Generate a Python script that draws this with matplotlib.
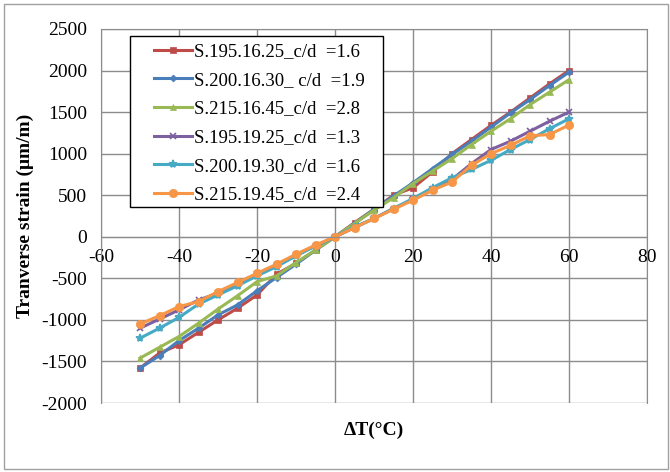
import matplotlib
matplotlib.use("Agg")
import matplotlib.pyplot as plt
from matplotlib.patches import Rectangle

plt.rcParams['font.family'] = ['Liberation Serif', 'DejaVu Serif']
plt.rcParams['axes.unicode_minus'] = False

# temperature change (°C)
dT = [-50, -45, -40, -35, -30, -25, -20, -15, -10, -5, 0, 5, 10, 15, 20, 25, 30, 35, 40, 45, 50, 55, 60]

s195_16_25 = [-1580, -1400, -1300, -1150, -1000, -860, -700, -450, -320, -160, 0, 170, 330, 500, 590, 780,
              1000, 1170, 1340, 1500, 1670, 1840, 2000]
s200_16_30 = [-1580, -1430, -1250, -1100, -940, -820, -650, -490, -330, -160, 0, 160, 330, 490, 650, 820,
              990, 1150, 1320, 1490, 1650, 1820, 1980]
s215_16_45 = [-1460, -1330, -1200, -1040, -870, -710, -540, -470, -310, -160, 0, 160, 320, 470, 640, 790,
              940, 1110, 1270, 1420, 1590, 1740, 1890]
s195_19_25 = [-1100, -990, -880, -760, -680, -570, -450, -340, -220, -110, 0, 110, 220, 340, 450, 580,
              690, 880, 1050, 1150, 1270, 1390, 1500]
s200_19_30 = [-1220, -1100, -970, -810, -700, -590, -470, -360, -230, -110, 0, 120, 220, 340, 460, 590,
              710, 810, 920, 1050, 1170, 1300, 1420]
s215_19_45 = [-1050, -950, -840, -780, -660, -550, -440, -330, -210, -100, 0, 110, 220, 330, 440, 560,
              660, 860, 1000, 1100, 1215, 1230, 1345]

labels = ["S.195.16.25_c/d  =1.6", "S.200.16.30_ c/d  =1.9", "S.215.16.45_c/d  =2.8",
          "S.195.19.25_c/d  =1.3", "S.200.19.30_c/d  =1.6", "S.215.19.45_c/d  =2.4"]
series = [s195_16_25, s200_16_30, s215_16_45, s195_19_25, s200_19_30, s215_19_45]
colors = ["#BE4B48", "#4A7EBB", "#98B954", "#7D60A0", "#46AAC5", "#F79646"]
markers = ["s", "D", "^", "x", "*", "o"]
msizes = [5, 3.5, 5, 5, 6, 6]

fig = plt.figure(figsize=(6.7, 4.72), dpi=100)
ax = fig.add_axes([101 / 670, 1 - 403 / 472, 546 / 670, 374 / 472])

for y, lab, c, m, ms in zip(series, labels, colors, markers, msizes):
    ax.plot(dT, y, color=c, marker=m, markersize=ms, linewidth=2.2, label=lab,
            markeredgewidth=1.2 if m in ("x", "*") else 0.5)

ax.set_xlim(-60, 80)
ax.set_ylim(-2000, 2500)
ax.set_xticks(range(-60, 81, 20))
ax.set_yticks(range(-2000, 2501, 500))
ax.grid(True, color="#8c8c8c", linewidth=1)
ax.set_axisbelow(True)

for s in ("left", "right", "top"):
    ax.spines[s].set_color("#8c8c8c")
ax.spines["bottom"].set_position(("data", 0))
ax.spines["bottom"].set_color("#8c8c8c")
ax.tick_params(length=0, labelsize=14)
ax.tick_params(axis="y", pad=10)
ax.tick_params(axis="x", pad=9)

ax.set_xlabel("ΔT(°C)", fontsize=14, fontweight="bold")
ax.xaxis.set_label_coords(0.5, -0.05)
ax.set_ylabel("Tranverse strain (μm/m)", fontsize=14, fontweight="bold")
ax.yaxis.set_label_coords(-0.122, 0.5)

# legend box drawn separately so its size matches the reference
ax.add_patch(Rectangle((29 / 546, 196 / 374), 253 / 546, 171 / 374, transform=ax.transAxes,
                       facecolor="white", edgecolor="black", linewidth=1, zorder=4))
leg = ax.legend(loc="upper left", bbox_to_anchor=(53 / 546, 360 / 374), borderaxespad=0,
                borderpad=0, frameon=False, fontsize=13.5, handlelength=2.03,
                labelspacing=0.615, handletextpad=0.1)
leg.set_zorder(5)

fig.patches.append(Rectangle((4 / 670, 3 / 472), 664 / 670, 465 / 472, transform=fig.transFigure,
                             fill=False, edgecolor="#a0a0a0", linewidth=1))

fig.savefig("out.png", dpi=100)
